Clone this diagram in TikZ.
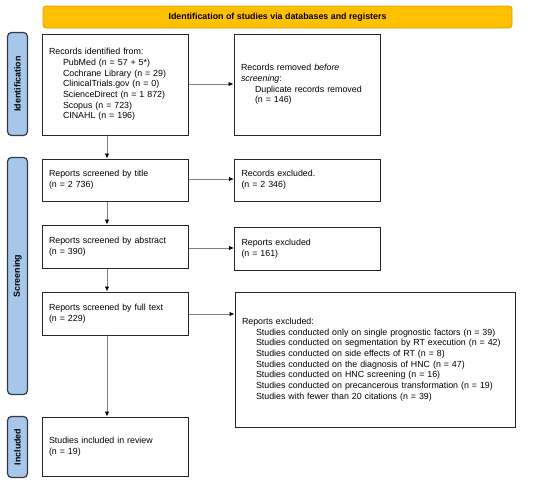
\documentclass[tikz,border=0pt]{standalone}
\usepackage{fontspec}
\setmainfont{Liberation Sans}
\usetikzlibrary{arrows.meta}
\definecolor{barfill}{HTML}{FFC000}
\definecolor{bardraw}{HTML}{D9A000}
\definecolor{phasefill}{HTML}{A6C6EA}
\definecolor{phasedraw}{HTML}{333A44}
\definecolor{linegray}{HTML}{808080}

\begin{document}
\begin{tikzpicture}[x=1pt, y=-1pt, every node/.style={font=\fontsize{8.85}{10.7}\selectfont}]
    \tikzstyle{recbox}=[draw=black!85, line width=1pt, inner sep=7pt, align=left, minimum height=#1]
    \tikzstyle{phase}=[draw=phasedraw, fill=phasefill, line width=1.2pt, rounded corners=4pt, minimum height=20pt, rotate=90, font=\fontsize{8.85}{10.7}\selectfont\bfseries]
    \tikzstyle{marrs}=[draw=linegray, line width=0.8pt, -{Latex[length=5pt, width=4.5pt, color=black]}]

    \useasboundingbox (0, 0) rectangle (550, 482);

    % header and phase labels
    \node[draw=bardraw, fill=barfill, line width=0.8pt, rounded corners=3pt, minimum width=469pt, minimum height=22pt, font=\fontsize{8.85}{10.7}\selectfont\bfseries] (head) at (277.5, 17) {Identification of studies via databases and registers};
    \node[phase, minimum width=103pt] (ident) at (17.5, 84) {Identification};
    \node[phase, minimum width=237pt] (screen) at (17.5, 276) {Screening};
    \node[phase, minimum width=61pt] (incl) at (17.5, 447) {Included};

    % left column
    \node[recbox=101pt, text width=132pt] (found) at (115, 84.5) {Records identified from:\\
        \hspace*{14pt}PubMed (n = 57 + 5*)\\
        \hspace*{14pt}Cochrane Library (n = 29)\\
        \hspace*{14pt}ClinicalTrials.gov (n = 0)\\
        \hspace*{14pt}ScienceDirect (n = 1 872)\\
        \hspace*{14pt}Scopus (n = 723)\\
        \hspace*{14pt}CINAHL (n = 196)};
    \node[recbox=42pt, text width=132pt] (title) at (115, 180) {Reports screened by title\\(n = 2 736)};
    \node[recbox=43pt, text width=132pt] (abstr) at (115, 246.5) {Reports screened by abstract\\(n = 390)};
    \node[recbox=43pt, text width=132pt] (full) at (115, 313.5) {Reports screened by full text\\(n = 229)};
    \node[recbox=59pt, text width=132pt] (review) at (115, 446.5) {Studies included in review\\(n = 19)};

    % right column
    \node[recbox=101pt, text width=132pt] (dupl) at (307, 84.5) {Records removed \emph{before}\\ \emph{screening}:\\
        \hspace*{14pt}Duplicate records removed\\
        \hspace*{14pt}(n = 146)};
    \node[recbox=42pt, text width=132pt] (titleout) at (307.5, 180) {Records excluded.\\(n = 2 346)};
    \node[recbox=43pt, text width=132pt] (abstrout) at (307.5, 248.5) {Reports excluded\\(n = 161)};
    \node[recbox=135pt, text width=266pt] (fullout) at (375, 359.5) {Reports excluded:\\
        \hspace*{14pt}Studies conducted only on single prognostic factors (n = 39)\\
        \hspace*{14pt}Studies conducted on segmentation by RT execution (n = 42)\\
        \hspace*{14pt}Studies conducted on side effects of RT (n = 8)\\
        \hspace*{14pt}Studies conducted on the diagnosis of HNC (n = 47)\\
        \hspace*{14pt}Studies conducted on HNC screening (n = 16)\\
        \hspace*{14pt}Studies conducted on precancerous transformation (n = 19)\\
        \hspace*{14pt}Studies with fewer than 20 citations (n = 39)};

    % arrows
    \draw[marrs] (found.east |- 0, 84) -- (dupl.west |- 0, 84);
    \draw[marrs] (title.east |- 0, 179) -- (titleout.west |- 0, 179);
    \draw[marrs] (abstr.east |- 0, 248) -- (abstrout.west |- 0, 248);
    \draw[marrs] (full.east |- 0, 314) -- (fullout.west |- 0, 314);
    \draw[marrs] (found.south -| 107, 0) -- (title.north -| 107, 0);
    \draw[marrs] (title.south -| 107, 0) -- (abstr.north -| 107, 0);
    \draw[marrs] (abstr.south -| 107, 0) -- (full.north -| 107, 0);
    \draw[marrs] (full.south -| 107, 0) -- (review.north -| 107, 0);

\end{tikzpicture}
\end{document}
